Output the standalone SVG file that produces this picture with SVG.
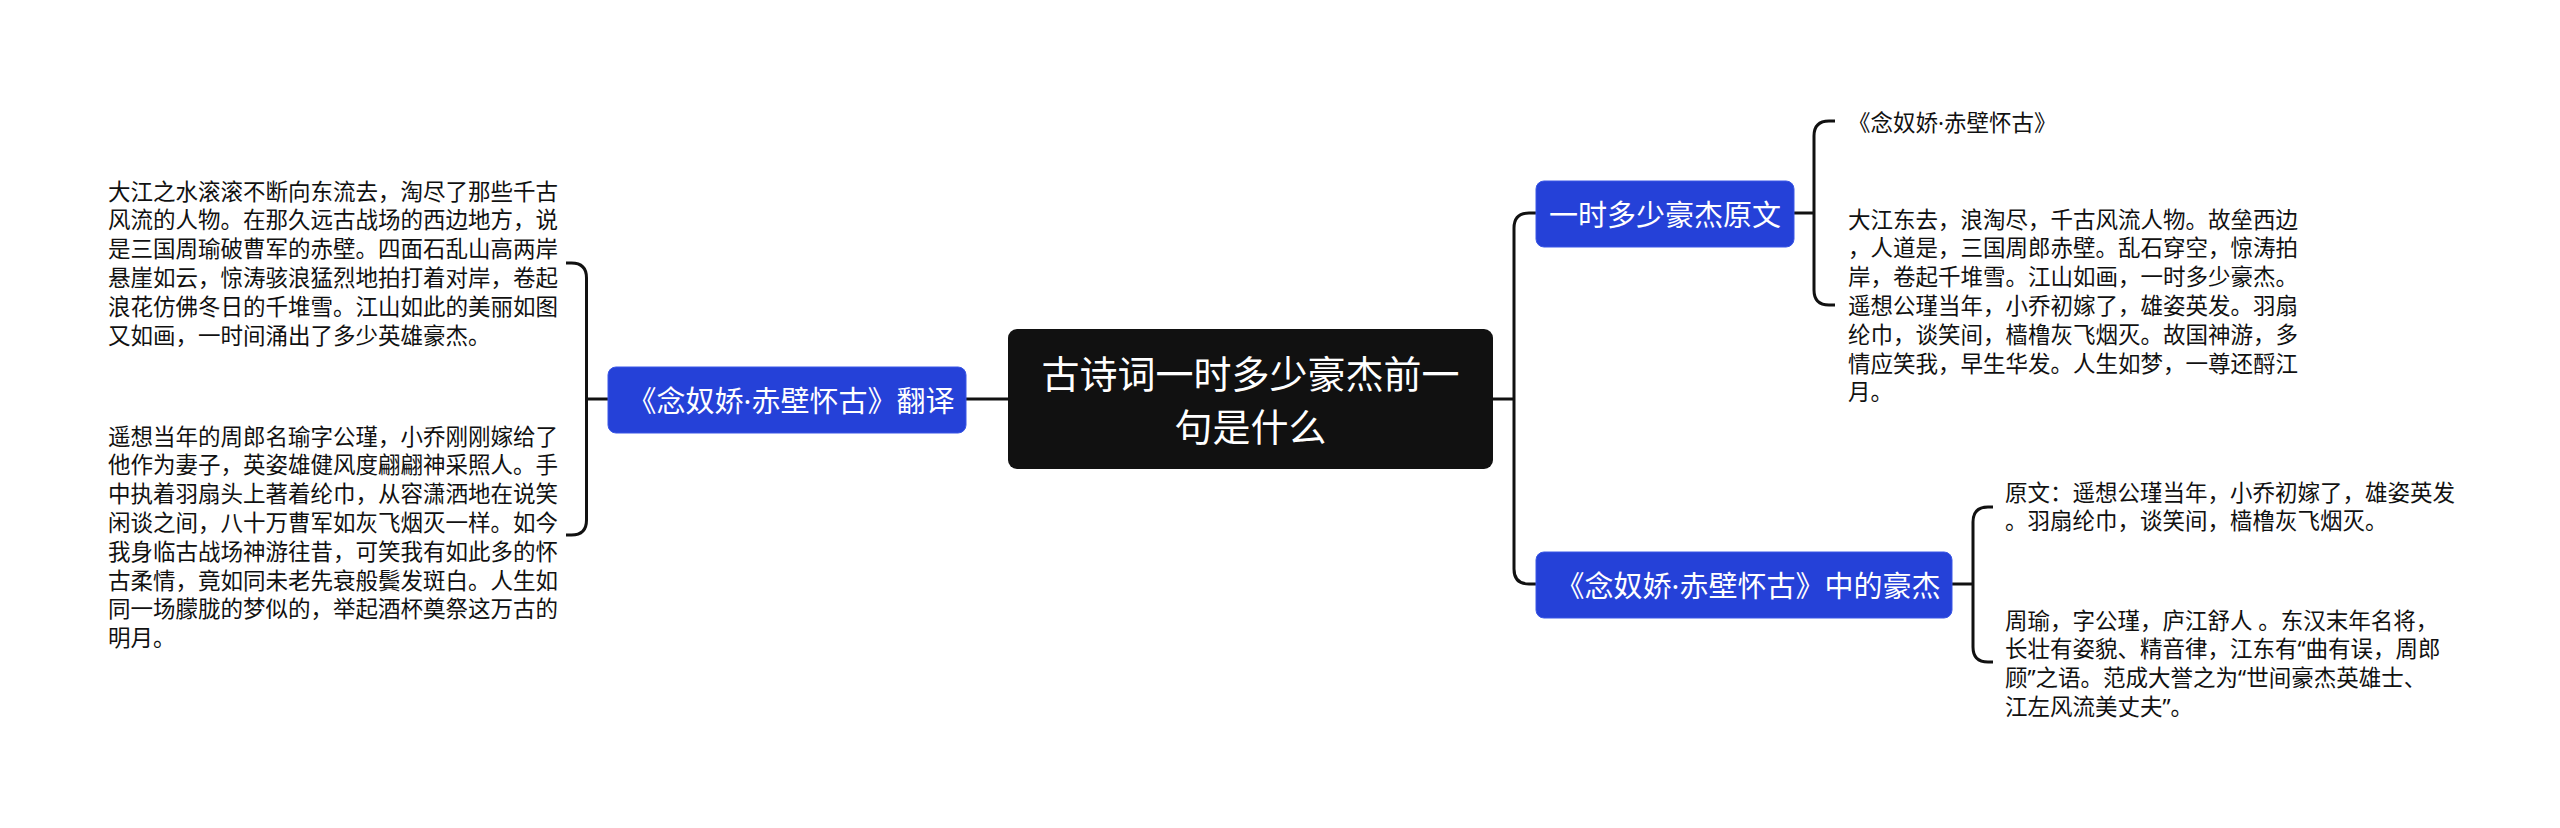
<svg xmlns="http://www.w3.org/2000/svg" width="2560" height="828" viewBox="0 0 2560 828">
<style>
.t{font-family:"Noto Sans","Noto Sans CJK SC",sans-serif;font-size:22.5px;fill:#111;dominant-baseline:central}
.bt{font-family:"Noto Sans","Noto Sans CJK SC",sans-serif;font-size:29px;fill:#fff;text-anchor:middle;dominant-baseline:central}
.ct{font-family:"Noto Sans","Noto Sans CJK SC",sans-serif;font-size:38px;fill:#fff;text-anchor:middle;dominant-baseline:central}
.blue{fill:#2541d8;stroke:#3a57e6;stroke-width:1}
.c{fill:none;stroke:#111;stroke-width:3}
</style>
<rect width="2560" height="828" fill="#fff"/>
<g id="connectors">
<path class="c" d="M1008,399 H966"/>
<path class="c" d="M608,399 H586.5"/>
<path class="c" d="M566,263 H571.5 Q586.5,263 586.5,278 V520 Q586.5,535 571.5,535 H566"/>
<path class="c" d="M1493,399 H1514"/>
<path class="c" d="M1536,213 H1529 Q1514,213 1514,228 V569 Q1514,584 1529,584 H1536"/>
<path class="c" d="M1794,213 H1814"/>
<path class="c" d="M1835,121 H1829 Q1814,121 1814,136 V290 Q1814,305 1829,305 H1835"/>
<path class="c" d="M1952,584 H1973"/>
<path class="c" d="M1993,507 H1988 Q1973,507 1973,522 V647 Q1973,662 1988,662 H1993"/>
</g>
<g id="center">
<rect x="1008" y="329" width="485" height="140" rx="9" fill="#111"/>
<text class="ct" x="1250.5" y="373">古诗词一时多少豪杰前一</text>
<text class="ct" x="1250.5" y="426">句是什么</text>
</g>
<g id="n-translation">
<rect class="blue" x="608" y="367" width="358" height="66" rx="8"/>
<text class="bt" x="791" y="400">《念奴娇·赤壁怀古》翻译</text>
</g>
<g id="n-original">
<rect class="blue" x="1536" y="181" width="258" height="66" rx="8"/>
<text class="bt" x="1665" y="214">一时多少豪杰原文</text>
</g>
<g id="n-heroes">
<rect class="blue" x="1536" y="552" width="416" height="66" rx="8"/>
<text class="bt" x="1748" y="585">《念奴娇·赤壁怀古》中的豪杰</text>
</g>
<g id="leaf-trans1">
<text class="t" x="108" y="191">大江之水滚滚不断向东流去，淘尽了那些千古</text>
<text class="t" x="108" y="219.8">风流的人物。在那久远古战场的西边地方，说</text>
<text class="t" x="108" y="248.6">是三国周瑜破曹军的赤壁。四面石乱山高两岸</text>
<text class="t" x="108" y="277.4">悬崖如云，惊涛骇浪猛烈地拍打着对岸，卷起</text>
<text class="t" x="108" y="306.2">浪花仿佛冬日的千堆雪。江山如此的美丽如图</text>
<text class="t" x="108" y="335">又如画，一时间涌出了多少英雄豪杰。</text>
</g>
<g id="leaf-trans2">
<text class="t" x="108" y="436">遥想当年的周郎名瑜字公瑾，小乔刚刚嫁给了</text>
<text class="t" x="108" y="464.8">他作为妻子，英姿雄健风度翩翩神采照人。手</text>
<text class="t" x="108" y="493.6">中执着羽扇头上著着纶巾，从容潇洒地在说笑</text>
<text class="t" x="108" y="522.4">闲谈之间，八十万曹军如灰飞烟灭一样。如今</text>
<text class="t" x="108" y="551.2">我身临古战场神游往昔，可笑我有如此多的怀</text>
<text class="t" x="108" y="580">古柔情，竟如同未老先衰般鬓发斑白。人生如</text>
<text class="t" x="108" y="608.8">同一场朦胧的梦似的，举起酒杯奠祭这万古的</text>
<text class="t" x="108" y="637.6">明月。</text>
</g>
<g id="leaf-title">
<text class="t" x="1848" y="122">《念奴娇·赤壁怀古》</text>
</g>
<g id="leaf-poem">
<text class="t" x="1848" y="219">大江东去，浪淘尽，千古风流人物。故垒西边</text>
<text class="t" x="1848" y="247.8">，人道是，三国周郎赤壁。乱石穿空，惊涛拍</text>
<text class="t" x="1848" y="276.6">岸，卷起千堆雪。江山如画，一时多少豪杰。</text>
<text class="t" x="1848" y="305.4">遥想公瑾当年，小乔初嫁了，雄姿英发。羽扇</text>
<text class="t" x="1848" y="334.2">纶巾，谈笑间，樯橹灰飞烟灭。故国神游，多</text>
<text class="t" x="1848" y="363">情应笑我，早生华发。人生如梦，一尊还酹江</text>
<text class="t" x="1848" y="391.8">月。</text>
</g>
<g id="leaf-hero1">
<text class="t" x="2005" y="492">原文：遥想公瑾当年，小乔初嫁了，雄姿英发</text>
<text class="t" x="2005" y="520.8">。羽扇纶巾，谈笑间，樯橹灰飞烟灭。</text>
</g>
<g id="leaf-hero2">
<text class="t" x="2005" y="620">周瑜，字公瑾，庐江舒人 。东汉末年名将，</text>
<text class="t" x="2005" y="648.8">长壮有姿貌、精音律，江东有“曲有误，周郎</text>
<text class="t" x="2005" y="677.6">顾”之语。范成大誉之为“世间豪杰英雄士、</text>
<text class="t" x="2005" y="706.4">江左风流美丈夫”。</text>
</g>
</svg>
